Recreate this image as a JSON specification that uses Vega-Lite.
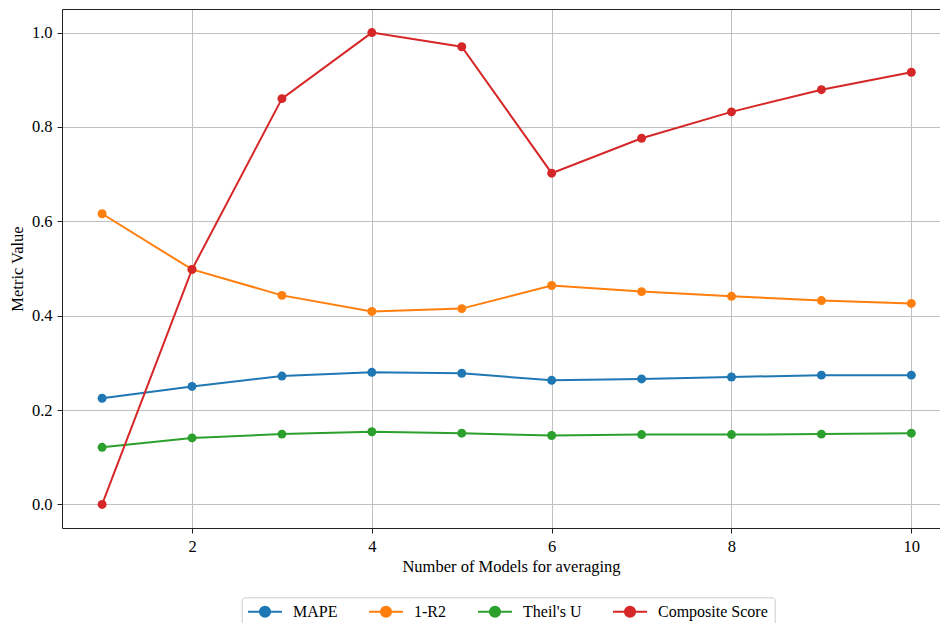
{
  "$schema": "https://vega.github.io/schema/vega-lite/v6.json",
  "width": 878,
  "height": 519,
  "autosize": {"type": "none"},
  "padding": {"left": 62, "top": 9, "right": 0, "bottom": 95},
  "background": "#ffffff",
  "config": {
    "view": {"stroke": null},
    "font": "Liberation Serif",
    "axis": {
      "labelFont": "Liberation Serif",
      "titleFont": "Liberation Serif",
      "labelFontSize": 16.5,
      "titleFontSize": 16.5,
      "titleFontWeight": "normal",
      "labelColor": "#000000",
      "titleColor": "#000000",
      "domainColor": "#222222",
      "domainWidth": 1,
      "tickColor": "#222222",
      "tickSize": 5,
      "tickWidth": 1,
      "gridColor": "#c0c0c0",
      "gridWidth": 1,
      "labelPadding": 5
    }
  },
  "data": {
    "values": [
      {"n": 1, "metric": "MAPE", "value": 0.225},
      {"n": 2, "metric": "MAPE", "value": 0.250},
      {"n": 3, "metric": "MAPE", "value": 0.272},
      {"n": 4, "metric": "MAPE", "value": 0.280},
      {"n": 5, "metric": "MAPE", "value": 0.278},
      {"n": 6, "metric": "MAPE", "value": 0.263},
      {"n": 7, "metric": "MAPE", "value": 0.266},
      {"n": 8, "metric": "MAPE", "value": 0.270},
      {"n": 9, "metric": "MAPE", "value": 0.274},
      {"n": 10, "metric": "MAPE", "value": 0.274},
      {"n": 1, "metric": "1-R2", "value": 0.616},
      {"n": 2, "metric": "1-R2", "value": 0.498},
      {"n": 3, "metric": "1-R2", "value": 0.443},
      {"n": 4, "metric": "1-R2", "value": 0.409},
      {"n": 5, "metric": "1-R2", "value": 0.415},
      {"n": 6, "metric": "1-R2", "value": 0.464},
      {"n": 7, "metric": "1-R2", "value": 0.451},
      {"n": 8, "metric": "1-R2", "value": 0.441},
      {"n": 9, "metric": "1-R2", "value": 0.432},
      {"n": 10, "metric": "1-R2", "value": 0.426},
      {"n": 1, "metric": "Theil's U", "value": 0.121},
      {"n": 2, "metric": "Theil's U", "value": 0.141},
      {"n": 3, "metric": "Theil's U", "value": 0.149},
      {"n": 4, "metric": "Theil's U", "value": 0.154},
      {"n": 5, "metric": "Theil's U", "value": 0.151},
      {"n": 6, "metric": "Theil's U", "value": 0.146},
      {"n": 7, "metric": "Theil's U", "value": 0.148},
      {"n": 8, "metric": "Theil's U", "value": 0.148},
      {"n": 9, "metric": "Theil's U", "value": 0.149},
      {"n": 10, "metric": "Theil's U", "value": 0.151},
      {"n": 1, "metric": "Composite Score", "value": 0.0},
      {"n": 2, "metric": "Composite Score", "value": 0.498},
      {"n": 3, "metric": "Composite Score", "value": 0.860},
      {"n": 4, "metric": "Composite Score", "value": 1.0},
      {"n": 5, "metric": "Composite Score", "value": 0.970},
      {"n": 6, "metric": "Composite Score", "value": 0.702},
      {"n": 7, "metric": "Composite Score", "value": 0.776},
      {"n": 8, "metric": "Composite Score", "value": 0.832},
      {"n": 9, "metric": "Composite Score", "value": 0.879},
      {"n": 10, "metric": "Composite Score", "value": 0.916}
    ]
  },
  "layer": [
    {
      "mark": {"type": "line", "strokeWidth": 2, "point": {"filled": true, "size": 80, "opacity": 1}},
      "encoding": {
        "x": {
          "field": "n", "type": "quantitative",
          "scale": {"domain": [0.554, 10.319], "nice": false, "zero": false},
          "axis": {
            "values": [2, 4, 6, 8, 10], "format": "d", "grid": true,
            "title": "Number of Models for averaging",
            "titleX": 449, "titleY": 43, "titleBaseline": "alphabetic", "titleAlign": "center"
          }
        },
        "y": {
          "field": "value", "type": "quantitative",
          "scale": {"domain": [-0.05, 1.05], "nice": false, "zero": false},
          "axis": {
            "values": [0, 0.2, 0.4, 0.6, 0.8, 1.0], "format": ".1f", "grid": true,
            "title": "Metric Value",
            "titleX": -39.5, "titleY": 259.5, "titleBaseline": "alphabetic", "titleAlign": "center", "titleAngle": -90
          }
        },
        "color": {
          "field": "metric", "type": "nominal",
          "scale": {
            "domain": ["MAPE", "1-R2", "Theil's U", "Composite Score"],
            "range": ["#1f77b4", "#ff7f0e", "#2ca02c", "#d62728"]
          },
          "legend": {
            "orient": "none",
            "legendX": 179.7,
            "legendY": 588.3,
            "direction": "horizontal",
            "title": null,
            "symbolType": "M-3,0H3M0.9,0A0.9,0.9 0 1 1 -0.9,0A0.9,0.9 0 1 1 0.9,0Z",
            "symbolSize": 128,
            "symbolStrokeWidth": 2,
            "symbolOffset": 9.3,
            "labelOffset": 20,
            "labelFont": "Liberation Serif",
            "labelFontSize": 16,
            "labelFontWeight": "normal",
            "labelColor": "#000000",
            "columnPadding": 27,
            "padding": 6,
            "strokeColor": "#cccccc",
            "fillColor": "#ffffff",
            "cornerRadius": 3,
            "encode": {
              "symbols": {
                "update": {
                  "fill": {"scale": "color", "field": "value"},
                  "stroke": {"scale": "color", "field": "value"},
                  "opacity": {"value": 1}
                }
              }
            }
          }
        }
      }
    },
    {
      "mark": {"type": "point", "opacity": 0},
      "encoding": {
        "x": {
          "field": "n", "type": "quantitative",
          "axis": {"orient": "top", "labels": false, "ticks": false, "grid": false, "domain": true, "title": null}
        },
        "y": {"field": "value", "type": "quantitative", "axis": null}
      }
    }
  ],
  "resolve": {"axis": {"x": "independent", "y": "independent"}}
}
